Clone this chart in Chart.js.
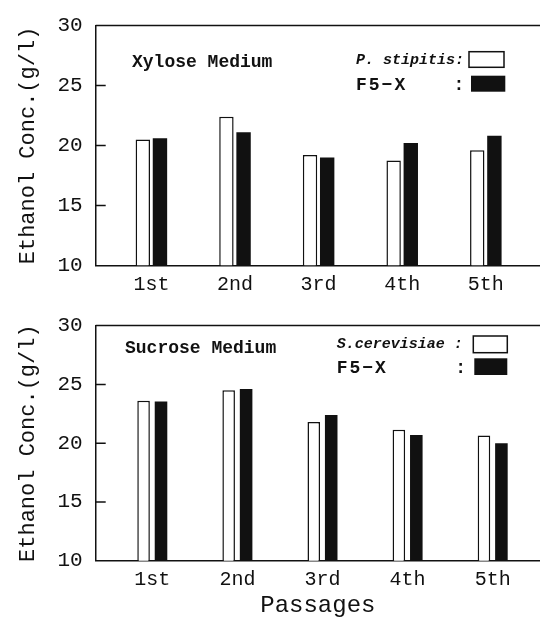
<!DOCTYPE html>
<html>
<head>
<meta charset="utf-8">
<script src="https://cdn.jsdelivr.net/npm/chart.js@4.4.0/dist/chart.umd.min.js"></script>
<style>
  body { margin: 0; background: #fff; }
  canvas { display: block; }
</style>
</head>
<body>
<canvas id="chartXylose" width="540" height="300"></canvas>
<canvas id="chartSucrose" width="540" height="320"></canvas>
<script>
const passages = ['1st', '2nd', '3rd', '4th', '5th'];
const yTicks = [10, 15, 20, 25, 30];

// ethanol g/l
const xyloseParent = [20.5, 22.4, 19.2, 18.75, 19.6];    // P. stipitis
const xyloseFusant = [20.6, 21.1, 19.0, 20.2, 20.8];     // F5-X
const sucroseParent = [23.6, 24.5, 21.8, 21.15, 20.65];  // S.cerevisiae
const sucroseFusant = [23.55, 24.6, 22.4, 20.7, 20.0];   // F5-X

const MONO = "'Liberation Mono', 'Courier New', monospace";
const INK = '#111';

function toPoints(vals) {
  return vals.map((v, i) => ({ x: i + 1, y: v }));
}

// top frame line, inner y ticks, medium label and the small legend
function frameAndNotes(notes, boxes) {
  return {
    id: 'frameAndNotes',
    afterDraw(chart) {
      const ctx = chart.ctx;
      const area = chart.chartArea;
      const y = chart.scales.y;
      ctx.save();
      ctx.strokeStyle = INK;
      ctx.lineWidth = 1.5;
      ctx.beginPath();
      ctx.moveTo(area.left, area.top);
      ctx.lineTo(area.right, area.top);
      y.ticks.forEach(t => {
        if (t.value <= y.min || t.value >= y.max) return;
        const py = y.getPixelForValue(t.value);
        ctx.moveTo(area.left, py);
        ctx.lineTo(area.left + 10, py);
      });
      ctx.stroke();

      ctx.fillStyle = INK;
      ctx.textBaseline = 'alphabetic';
      notes.forEach(n => {
        ctx.font = n.font;
        ctx.letterSpacing = n.spacing || '0px';
        ctx.fillText(n.text, n.x, n.y);
      });

      boxes.forEach(b => {
        if (b.filled) {
          ctx.fillRect(b.x, b.y, b.w, b.h);
        } else {
          ctx.strokeRect(b.x, b.y, b.w, b.h);
        }
      });
      ctx.restore();
    }
  };
}

function makeChart(id, cfg) {
  const ctx = document.getElementById(id).getContext('2d');
  return new Chart(ctx, {
    type: 'bar',
    data: {
      datasets: [
        {
          label: cfg.parentName,
          data: toPoints(cfg.parent),
          backgroundColor: '#fff',
          borderColor: INK,
          borderWidth: 1.5,
          categoryPercentage: 0.41,
          barPercentage: cfg.barPct
        },
        {
          label: 'F5-X',
          data: toPoints(cfg.fusant),
          backgroundColor: INK,
          borderColor: INK,
          borderWidth: 0,
          categoryPercentage: 0.41,
          barPercentage: cfg.barPct
        }
      ]
    },
    options: {
      responsive: false,
      animation: false,
      layout: { padding: { top: cfg.top, left: 0, right: 0, bottom: 0 } },
      plugins: { legend: { display: false }, tooltip: { enabled: false } },
      scales: {
        x: {
          type: 'linear',
          offset: false,
          min: cfg.xMin,
          max: cfg.xMax,
          grid: { display: false, drawTicks: false, offset: false },
          border: { display: true, color: INK, width: 1.5 },
          afterBuildTicks: s => { s.ticks = passages.map((_, i) => ({ value: i + 1 })); },
          ticks: {
            callback: (v, i) => passages[i],
            font: { family: MONO, size: 20 },
            color: INK,
            padding: 7,
            maxRotation: 0,
            autoSkip: false
          },
          title: {
            display: cfg.showXTitle,
            text: 'Passages',
            font: { family: MONO, size: 24 },
            color: INK,
            padding: { top: 0, bottom: 0 }
          },
          afterFit: s => { s.height = cfg.xHeight; }
        },
        y: {
          min: 10,
          max: 30,
          afterBuildTicks: s => { s.ticks = yTicks.map(v => ({ value: v })); },
          grid: { display: false, drawTicks: false },
          border: { display: true, color: INK, width: 1.5 },
          ticks: { font: { family: MONO, size: 21 }, color: INK, padding: 13 },
          title: {
            display: true,
            text: 'Ethanol Conc.(g/l)',
            font: { family: MONO, size: 22 },
            color: INK,
            padding: { top: 15 }
          },
          afterFit: s => { s.width = 95.7; }
        }
      }
    },
    plugins: [frameAndNotes(cfg.notes, cfg.boxes)]
  });
}

makeChart('chartXylose', {
  parentName: 'P. stipitis',
  parent: xyloseParent,
  fusant: xyloseFusant,
  xMin: 0.334,
  xMax: 5.648,
  barPct: 0.84,
  top: 21.7,
  xHeight: 34.7,
  showXTitle: false,
  notes: [
    { text: 'Xylose Medium', font: 'bold 18px ' + MONO, x: 132, y: 66.7 },
    { text: 'P. stipitis:', font: 'italic bold 15px ' + MONO, x: 356, y: 63.5 },
    { text: 'F5\u2212X', font: 'bold 18px ' + MONO, x: 356, y: 90, spacing: '2px' },
    { text: ':', font: 'bold 18px ' + MONO, x: 453.6, y: 90 }
  ],
  boxes: [
    { x: 469, y: 51.7, w: 35, h: 15.6, filled: false },
    { x: 471, y: 75.7, w: 34.3, h: 16, filled: true }
  ]
});

makeChart('chartSucrose', {
  parentName: 'S.cerevisiae',
  parent: sucroseParent,
  fusant: sucroseFusant,
  xMin: 0.335,
  xMax: 5.556,
  barPct: 0.72,
  top: 20.7,
  xHeight: 59.3,
  showXTitle: true,
  notes: [
    { text: 'Sucrose Medium', font: 'bold 18px ' + MONO, x: 125, y: 53.3 },
    { text: 'S.cerevisiae :', font: 'italic bold 15px ' + MONO, x: 336.7, y: 47.7 },
    { text: 'F5\u2212X', font: 'bold 18px ' + MONO, x: 336.7, y: 72.7, spacing: '2px' },
    { text: ':', font: 'bold 18px ' + MONO, x: 455.3, y: 72.7 }
  ],
  boxes: [
    { x: 473.3, y: 36, w: 34, h: 16.7, filled: false },
    { x: 474.3, y: 58.3, w: 33, h: 16.7, filled: true }
  ]
});
</script>
</body>
</html>
